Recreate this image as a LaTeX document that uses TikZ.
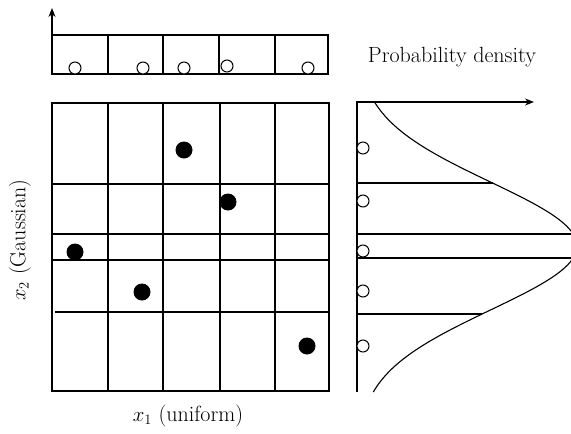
\documentclass[tikz,border=0pt]{standalone}
\usetikzlibrary{arrows.meta}

\begin{document}
\begin{tikzpicture}[
  x=1pt, y=-1pt,
  >={Stealth[length=9pt,width=7pt]},
  line width=1.1pt,
  sample/.style={circle, fill=black, minimum size=17pt, inner sep=0pt},
  proj/.style={circle, draw, fill=white, line width=1pt, minimum size=12pt, inner sep=0pt},
  lbl/.style={font=\fontsize{22}{26}\selectfont, inner sep=0pt}
]
  \useasboundingbox (0,0) rectangle (571,434);

  % main grid
  \draw (52,103) rectangle (329,391);
  \foreach \gx in {108,163,220,275}
    \draw (\gx,103) -- (\gx,391);
  \foreach \gy in {184,234,260}
    \draw (52,\gy) -- (329,\gy);
  \draw (55,312) -- (329,312);

  % samples
  \node[sample] (s1) at (184,150) {};
  \node[sample] (s2) at (228,202) {};
  \node[sample] (s3) at (75,252) {};
  \node[sample] (s4) at (142,292) {};
  \node[sample] (s5) at (307,346) {};

  % uniform strip
  \coordinate (uTop) at (52,8);
  \coordinate (uBase) at (52,35);
  \draw[->] (uBase) -- (uTop);
  \draw (52,35) rectangle (328,74);
  \foreach \gx in {108,163,219,275}
    \draw (\gx,35) -- (\gx,74);
  \node[proj] (u1) at (75,68) {};
  \node[proj] (u2) at (143,68) {};
  \node[proj] (u3) at (184,68) {};
  \node[proj] (u4) at (227,66) {};
  \node[proj] (u5) at (308,68) {};

  % gaussian density
  \coordinate (gO) at (357,102);
  \coordinate (gEnd) at (534,102);
  \coordinate (gBot) at (357,392);
  \draw[->] (gBot) -- (gO) -- (gEnd);
  \draw plot[domain=102:392, samples=90, variable=\t]
    ({357+220*exp(-0.5*((\t-246)/64)^2)}, \t);
  \foreach \gy in {183,234,258,314}
    \draw (357,\gy) -- ({357+220*exp(-0.5*((\gy-246)/64)^2)}, \gy);
  \node[proj] (g1) at (363,148) {};
  \node[proj] (g2) at (363,201) {};
  \node[proj] (g3) at (363,251) {};
  \node[proj] (g4) at (363,291) {};
  \node[proj] (g5) at (363,346) {};

  % labels
  \node[lbl] (dlab) at (452,57) {Probability density};
  \node[lbl] (xlab) at (188,416) {$x_1$ (uniform)};
  \node[lbl, rotate=90] (ylab) at (20,240) {$x_2$ (Gaussian)};
\end{tikzpicture}
\end{document}
